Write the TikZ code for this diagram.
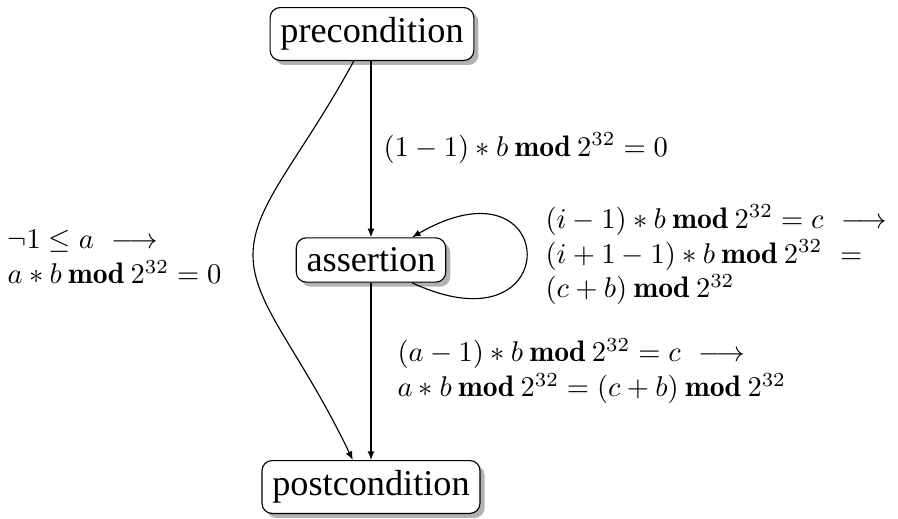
\documentclass[tikz,border=0pt]{standalone}
\usepackage{fontspec}
\newfontfamily\statefont{Liberation Serif}
\usetikzlibrary{arrows.meta,shadows}
\newcommand{\Mod}{\mathbin{\mathbf{mod}}}
\tikzset{
  state/.style={draw,rounded corners=3.5pt,fill=white,
    font=\statefont\fontsize{12.7}{15}\selectfont,
    inner xsep=3.6pt,inner ysep=3.5pt,
    drop shadow={shadow xshift=1.6pt,shadow yshift=-1.6pt,fill=black!30,opacity=1}},
  arr/.style={-{Latex[length=3pt,width=2.4pt]}},
  lbl/.style={align=left,anchor=west,inner sep=0pt,font=\fontsize{10.4}{12.2}\selectfont},
}

\begin{document}
\begin{tikzpicture}[x=0.01232cm,y=0.01232cm]
  \useasboundingbox (0,0) rectangle (898,-518);
  \node[state] (pre) at (372,-34) {precondition};
  \node[state] (as) at (371,-260) {assertion};
  \node[state] (post) at (371,-487) {postcondition};
  \draw[arr] (pre.south -| as) -- (as);
  \draw[arr] (as) -- (post);
  \draw[arr] (pre.-124) .. controls (300,-160) and (253,-205) .. (253,-255)
    .. controls (253,-305) and (300,-350) .. (post.124);
  \draw[arr] (as.-29) .. controls +(-25:172) and +(30:172) .. (as.29);
  \node[lbl] (l1) at (383,-148) {$(1-1)*b\Mod 2^{32}=0$};
  \node[lbl] (l2) at (7,-257) {$\neg 1\leq a\ \longrightarrow$\\ $a*b\Mod 2^{32}=0$};
  \node[lbl] (l3) at (545,-255) {$(i-1)*b\Mod 2^{32}=c\ \longrightarrow$\\
    $(i+1-1)*b\Mod 2^{32}\ =$\\ $(c+b)\Mod 2^{32}$};
  \node[lbl] (l4) at (397,-371) {$(a-1)*b\Mod 2^{32}=c\ \longrightarrow$\\
    $a*b\Mod 2^{32}=(c+b)\Mod 2^{32}$};
\end{tikzpicture}
\end{document}
